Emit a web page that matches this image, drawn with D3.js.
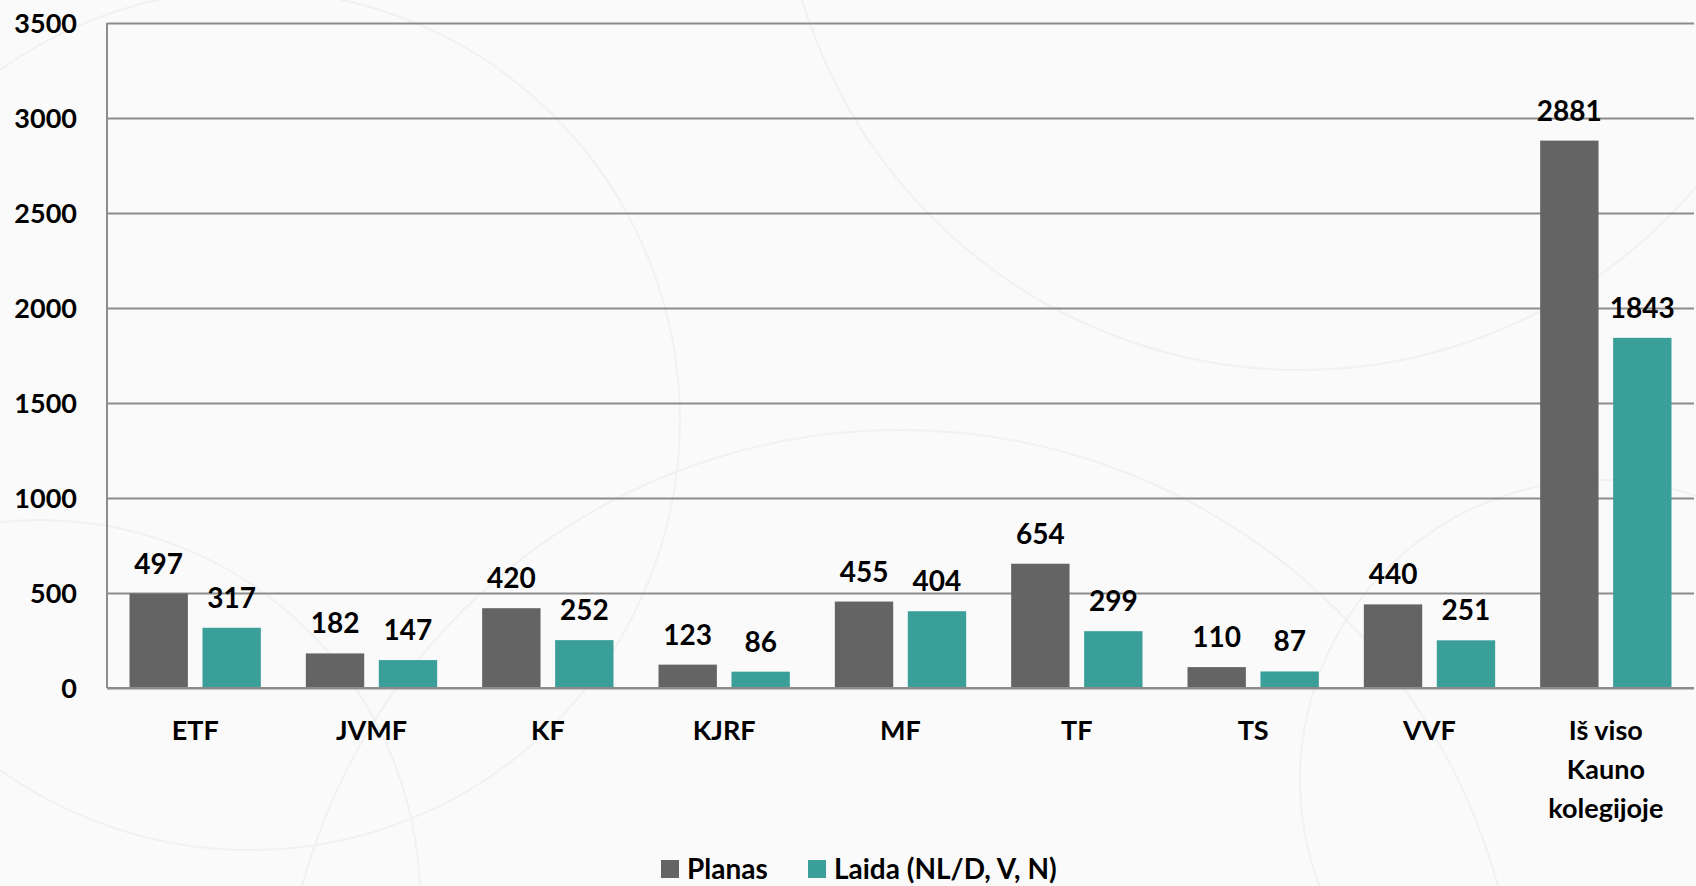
<!DOCTYPE html>
<html>
<head>
<meta charset="utf-8">
<script src="https://cdn.jsdelivr.net/npm/d3@7"></script>
<style>
  html, body { margin: 0; padding: 0; background: #fafafa; }
  svg { display: block; }
  text { font-family: Lato, "Open Sans", sans-serif; font-weight: 700; fill: #000; }
</style>
</head>
<body>
<svg id="chart" width="1696" height="886"></svg>
<script>
const categories = ["ETF", "JVMF", "KF", "KJRF", "MF", "TF", "TS", "VVF", "Iš viso Kauno kolegijoje"];
const seriesNames = ["Planas", "Laida (NL/D, V, N)"];
const planas = [497, 182, 420, 123, 455, 654, 110, 440, 2881];
const laida  = [317, 147, 252, 86, 404, 299, 87, 251, 1843];
const yTicks = [0, 500, 1000, 1500, 2000, 2500, 3000, 3500];
const colors = ["#646464", "#3b9f99"];

const W = 1696, H = 886;
const m = { left: 107, right: 2, top: 23, bottom: 198 };
const svg = d3.select("#chart");

// faint decorative background arcs
const bg = svg.append("g").attr("fill", "none").attr("stroke", "#f1f1f1").attr("stroke-width", 2);
[[250, 420, 430], [900, 1050, 620], [1300, -150, 520], [40, 900, 380], [1600, 780, 300]].forEach(c => {
  bg.append("circle").attr("cx", c[0]).attr("cy", c[1]).attr("r", c[2]);
});

const x0 = d3.scaleBand().domain(categories).range([m.left, W - m.right]).paddingInner(0).paddingOuter(0);
const grp = 22.5;
const x1 = d3.scaleBand().domain([0, 1]).range([grp, x0.bandwidth() - grp]).paddingInner(0.2).paddingOuter(0);
const y = d3.scaleLinear().domain([0, 3500]).range([H - m.bottom, m.top]);

// gridlines
const yAxis = d3.axisLeft(y).tickValues(yTicks).tickSize(-(W - m.right - m.left)).tickFormat(d => d).tickPadding(30);
const gy = svg.append("g").attr("transform", `translate(${m.left},0)`).call(yAxis);
gy.select(".domain").remove();
gy.selectAll(".tick line").attr("stroke", "#8c8c8c").attr("stroke-width", 2);
gy.selectAll(".tick text").attr("font-size", 27).attr("font-family", "Lato, 'Open Sans', sans-serif").attr("font-weight", 700).attr("fill", "#000").attr("dy", "0.36em");

// vertical axis line
svg.append("line").attr("x1", m.left).attr("x2", m.left).attr("y1", y(3500)).attr("y2", y(0))
  .attr("stroke", "#8c8c8c").attr("stroke-width", 2);

// bars
const rows = categories.map((c, i) => ({ c, vals: [planas[i], laida[i]] }));
const g = svg.append("g");
const groups = g.selectAll("g.grp").data(rows).join("g").attr("transform", d => `translate(${x0(d.c)},0)`);
groups.selectAll("rect").data(d => d.vals.map((v, k) => ({ v, k }))).join("rect")
  .attr("x", d => x1(d.k)).attr("width", x1.bandwidth())
  .attr("y", d => y(d.v)).attr("height", d => y(0) - y(d.v))
  .attr("fill", d => colors[d.k]);
groups.selectAll("text.val").data(d => d.vals.map((v, k) => ({ v, k }))).join("text")
  .attr("class", "val")
  .attr("x", d => x1(d.k) + x1.bandwidth() / 2).attr("y", d => y(d.v) - 20)
  .attr("text-anchor", "middle").attr("font-size", 28).text(d => d.v);

// baseline
svg.append("line").attr("x1", m.left).attr("x2", W - m.right).attr("y1", y(0)).attr("y2", y(0))
  .attr("stroke", "#8c8c8c").attr("stroke-width", 2);

// category labels with wrapping
const xAxis = d3.axisBottom(x0).tickSize(0).tickPadding(0);
const gx = svg.append("g").attr("transform", `translate(0,${y(0)})`).call(xAxis);
gx.select(".domain").remove();
gx.selectAll(".tick text").attr("font-size", 27).attr("font-family", "Lato, 'Open Sans', sans-serif")
  .attr("font-weight", 700).attr("fill", "#000").attr("y", 0).attr("dy", null)
  .each(function(d) {
    const t = d3.select(this);
    const words = d.split(" ");
    t.text(null);
    let lines = [], cur = [];
    words.forEach(w => {
      cur.push(w);
      const tmp = t.append("tspan").text(cur.join(" "));
      const wd = tmp.node().getComputedTextLength();
      tmp.remove();
      if (wd > 140 && cur.length > 1) { cur.pop(); lines.push(cur.join(" ")); cur = [w]; }
    });
    lines.push(cur.join(" "));
    lines.forEach((ln, i) => t.append("tspan").attr("x", 0).attr("y", 52 + i * 39).text(ln));
  });

// legend
const leg = svg.append("g").attr("transform", "translate(0,869)");
const legX = [661, 808];
seriesNames.forEach((n, i) => {
  leg.append("rect").attr("x", legX[i]).attr("y", -9).attr("width", 18).attr("height", 18).attr("fill", colors[i]);
  leg.append("text").attr("x", legX[i] + 26).attr("y", 0).attr("dy", "0.36em").attr("font-size", 28).text(n);
});
</script>
</body>
</html>
